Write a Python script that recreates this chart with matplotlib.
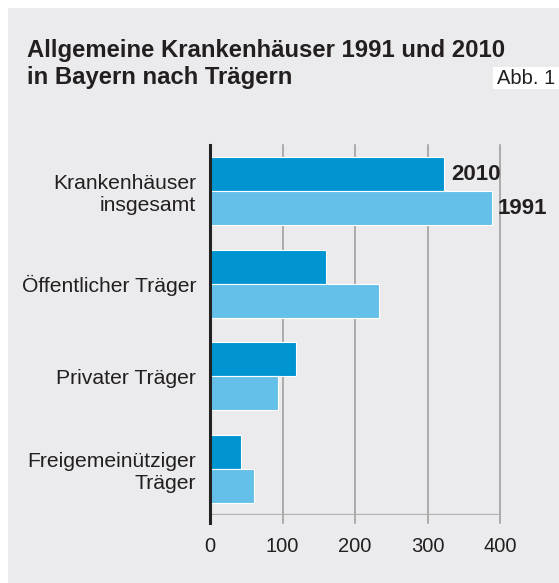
import matplotlib
matplotlib.use("Agg")
import matplotlib.pyplot as plt
from matplotlib.patches import Rectangle
import numpy as np

plt.rcParams["font.family"] = ["Liberation Sans", "DejaVu Sans"]

categories = ["Krankenhäuser\ninsgesamt", "Öffentlicher Träger", "Privater Träger",
              "Freigemeinütziger\nTräger"]
values_2010 = [323, 160, 119, 43]
values_1991 = [389, 233, 94, 61]
years = ["2010", "1991"]
xticks = [0, 100, 200, 300, 400]

W, H = 559, 583
fig = plt.figure(figsize=(W / 100, H / 100), dpi=100, facecolor="white")
bg = "#ebebed"
ink = "#231f20"
fig.patches.append(Rectangle((8 / W, 0), 1, 1 - 8 / H, transform=fig.transFigure,
                             facecolor=bg, edgecolor="none", zorder=-10))
# white box behind "Abb. 1"
fig.patches.append(Rectangle((493 / W, 1 - 89 / H), 1, 22 / H, transform=fig.transFigure,
                             facecolor="white", edgecolor="none", zorder=-5))

ax = fig.add_axes([210 / W, 1 - 515 / H, 290 / W, 370 / H])
ax.patch.set_alpha(0)

y = np.arange(len(categories))
h = 0.37
dark = "#0094d1"
light = "#64c0e8"
ax.barh(y - h / 2, values_2010, height=h, color=dark, edgecolor="white", linewidth=0.8, zorder=3)
ax.barh(y + h / 2, values_1991, height=h, color=light, edgecolor="white", linewidth=0.8, zorder=3)

ax.set_xlim(0, 400)
ax.set_ylim(3.5, -0.5)

# grid and ticks reaching below the axis
tick_len = 8 / 370
for t in xticks[1:]:
    ax.axvline(t, ymin=-tick_len, ymax=1, color="#9a9a9a", lw=1.1, clip_on=False, zorder=1)
ax.axvline(0, ymin=-tick_len, ymax=1, color="#222222", lw=2.2, clip_on=False, zorder=4)
ax.axhline(3.5, color="#b0b0b0", lw=1.6, zorder=2)

for s in ax.spines.values():
    s.set_visible(False)
ax.tick_params(length=0)
ax.set_xticks(xticks)
ax.set_xticklabels([str(t) for t in xticks], fontsize=14.5, color=ink)
ax.tick_params(axis="x", pad=16)
ax.set_yticks(y)
ax.set_yticklabels(categories, fontsize=15.2, color=ink, linespacing=1.2)
ax.tick_params(axis="y", pad=10)

# year labels next to the first group
ax.text(values_2010[0] + 10, 0 - h / 2, years[0], fontsize=16, fontweight="bold",
        color=ink, va="center", ha="left")
ax.text(values_1991[0] + 8, 0 + h / 2, years[1], fontsize=16, fontweight="bold",
        color=ink, va="center", ha="left")

fig.text(27 / W, 1 - 57 / H, "Allgemeine Krankenhäuser 1991 und 2010",
         fontsize=17.2, fontweight="bold", color=ink, ha="left", va="baseline")
fig.text(27 / W, 1 - 84 / H, "in Bayern nach Trägern",
         fontsize=17.2, fontweight="bold", color=ink, ha="left", va="baseline")
fig.text(497 / W, 1 - 84.3 / H, "Abb. 1", fontsize=14.5, color=ink, ha="left", va="baseline")

fig.savefig("out.png", dpi=100, facecolor="white")
